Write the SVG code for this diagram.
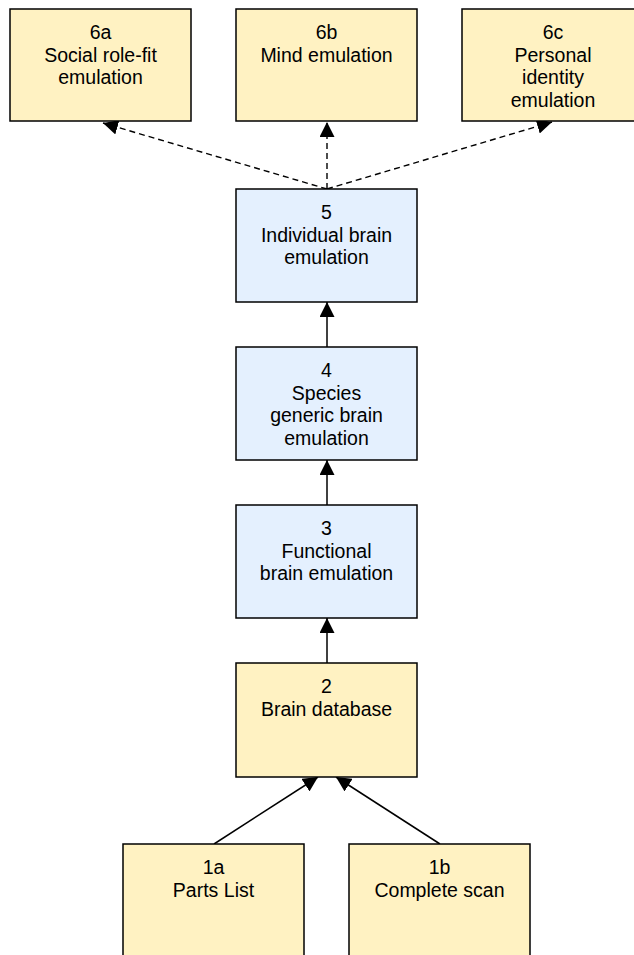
<svg xmlns="http://www.w3.org/2000/svg" width="634" height="955" viewBox="0 0 634 955">
<style>
.y{fill:#FFF2C2;stroke:#000;stroke-width:1.5}
.b{fill:#E4F0FE;stroke:#000;stroke-width:1.5}
text{font-family:"Liberation Sans",Arial,sans-serif;font-size:19.5px;fill:#000;text-anchor:middle}
.c{stroke:#000;stroke-width:1.5;fill:none}
.d{stroke:#000;stroke-width:1.4;fill:none;stroke-dasharray:6 4}
</style>
<defs>
<marker id="ah" markerUnits="userSpaceOnUse" markerWidth="15" markerHeight="15" viewBox="0 0 15 15" refX="15" refY="7.5" orient="auto">
<path d="M0,0 L15,7.5 L0,15 z" fill="#000"/>
</marker>
</defs>
<g id="connectors">
<line class="d" x1="327" y1="189" x2="103" y2="123" marker-end="url(#ah)"/>
<line class="d" x1="327" y1="189" x2="327" y2="122" marker-end="url(#ah)"/>
<line class="d" x1="327" y1="189" x2="552" y2="122" marker-end="url(#ah)"/>
<line class="c" x1="327" y1="347" x2="327" y2="302" marker-end="url(#ah)"/>
<line class="c" x1="327" y1="505" x2="327" y2="460" marker-end="url(#ah)"/>
<line class="c" x1="327" y1="663" x2="327" y2="618" marker-end="url(#ah)"/>
<line class="c" x1="214" y1="844" x2="318" y2="777" marker-end="url(#ah)"/>
<line class="c" x1="440" y1="844" x2="336" y2="777" marker-end="url(#ah)"/>
</g>
<g id="n6a"><rect class="y" x="10" y="9" width="181" height="112"/>
<text x="100.5" y="39">6a</text><text x="100.5" y="61.5">Social role-fit</text><text x="100.5" y="84">emulation</text></g>
<g id="n6b"><rect class="y" x="236" y="9" width="181" height="112"/>
<text x="326.5" y="39">6b</text><text x="326.5" y="61.5">Mind emulation</text></g>
<g id="n6c"><rect class="y" x="462" y="9" width="182" height="112"/>
<text x="553" y="39">6c</text><text x="553" y="61.5">Personal</text><text x="553" y="84">identity</text><text x="553" y="106.5">emulation</text></g>
<g id="n5"><rect class="b" x="236" y="189" width="181" height="113"/>
<text x="326.5" y="219">5</text><text x="326.5" y="241.5">Individual brain</text><text x="326.5" y="264">emulation</text></g>
<g id="n4"><rect class="b" x="236" y="347" width="181" height="113"/>
<text x="326.5" y="377">4</text><text x="326.5" y="399.5">Species</text><text x="326.5" y="422">generic brain</text><text x="326.5" y="444.5">emulation</text></g>
<g id="n3"><rect class="b" x="236" y="505" width="181" height="113"/>
<text x="326.5" y="535">3</text><text x="326.5" y="557.5">Functional</text><text x="326.5" y="580">brain emulation</text></g>
<g id="n2"><rect class="y" x="236" y="663" width="181" height="114"/>
<text x="326.5" y="693">2</text><text x="326.5" y="715.5">Brain database</text></g>
<g id="n1a"><rect class="y" x="123" y="844" width="181" height="130"/>
<text x="213.5" y="874">1a</text><text x="213.5" y="896.5">Parts List</text></g>
<g id="n1b"><rect class="y" x="349" y="844" width="181" height="130"/>
<text x="439.5" y="874">1b</text><text x="439.5" y="896.5">Complete scan</text></g>
</svg>
